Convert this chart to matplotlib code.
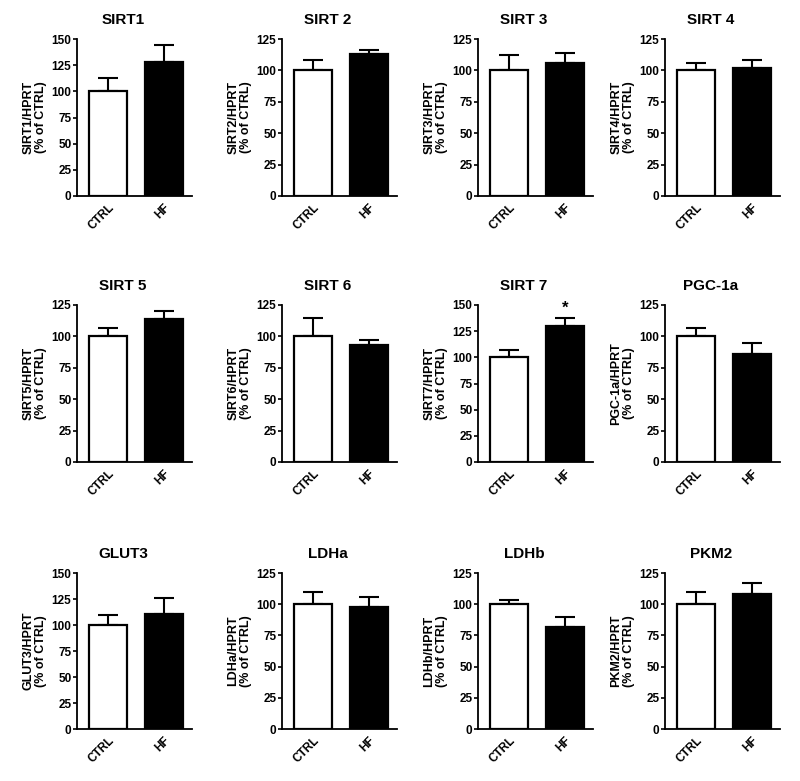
import matplotlib
matplotlib.use("Agg")
import matplotlib.pyplot as plt
import numpy as np

plt.rcParams['font.family'] = ['Liberation Sans', 'DejaVu Sans']
plt.rcParams['font.weight'] = 'bold'

titles = ['SIRT1', 'SIRT 2', 'SIRT 3', 'SIRT 4',
          'SIRT 5', 'SIRT 6', 'SIRT 7', 'PGC-1a',
          'GLUT3', 'LDHa', 'LDHb', 'PKM2']
genes = ['SIRT1', 'SIRT2', 'SIRT3', 'SIRT4',
         'SIRT5', 'SIRT6', 'SIRT7', 'PGC-1a',
         'GLUT3', 'LDHa', 'LDHb', 'PKM2']
groups = ['CTRL', 'HF']
ctrl_mean = [100, 100, 100, 100, 100, 100, 100, 100, 100, 100, 100, 100]
ctrl_sem = [13, 8, 12.5, 6, 7, 15, 7, 6.5, 10, 10, 3, 10]
hf_mean = [128, 113, 106, 102, 114, 93, 130, 86, 111, 98, 82, 108]
hf_sem = [16, 3.5, 8, 6.5, 6, 4, 8, 9, 15, 8, 7.5, 9]
y_max = [150, 125, 125, 125, 125, 125, 150, 125, 150, 125, 125, 125]
signif = ['', '', '', '', '', '', '*', '', '', '', '', '']

W, H = 800, 781
fig = plt.figure(figsize=(W / 100, H / 100), dpi=100)
lefts = [77, 282, 478, 665]
rows = [(39, 196), (305, 462), (573, 729)]
ax_w = 115

for i in range(12):
    r, c = divmod(i, 4)
    top, bot = rows[r]
    ax = fig.add_axes([lefts[c] / W, 1 - bot / H, ax_w / W, (bot - top) / H])
    x = np.arange(2)
    means = [ctrl_mean[i], hf_mean[i]]
    sems = [ctrl_sem[i], hf_sem[i]]
    ax.bar(x, means, width=0.68, color=['white', 'black'], edgecolor='black',
           linewidth=1.6, zorder=2)
    ax.errorbar(x, means, yerr=[[0, 0], sems], fmt='none', ecolor='black',
                elinewidth=1.5, capsize=7.5, capthick=1.5, zorder=1, clip_on=False)
    if signif[i]:
        ax.annotate(signif[i], (1, hf_mean[i] + hf_sem[i]), xytext=(0, 1),
                    textcoords='offset points', ha='center', va='bottom',
                    fontsize=12, fontweight='bold')
    ax.set_xlim(-0.55, 1.5)
    ax.set_ylim(0, y_max[i])
    ax.set_yticks(np.arange(0, y_max[i] + 1, 25))
    ax.set_xticks(x)
    ax.set_xticklabels(groups, rotation=45, ha='right', rotation_mode='anchor',
                       fontsize=8.5, fontweight='bold')
    ax.tick_params(axis='x', length=0, pad=4)
    ax.tick_params(axis='y', length=3, width=1.2, pad=1, labelsize=8.5)
    for lab in ax.get_yticklabels():
        lab.set_fontweight('bold')
    for s in ['top', 'right']:
        ax.spines[s].set_visible(False)
    for s in ['left', 'bottom']:
        ax.spines[s].set_linewidth(1.3)
    ax.set_ylabel(genes[i] + '/HPRT\n(% of CTRL)', fontsize=9,
                  fontweight='bold', labelpad=3, linespacing=1.1)
    ax.set_title(titles[i], fontsize=11, fontweight='bold', x=0.4, pad=11)

fig.savefig('out.png', dpi=100, facecolor='white')
